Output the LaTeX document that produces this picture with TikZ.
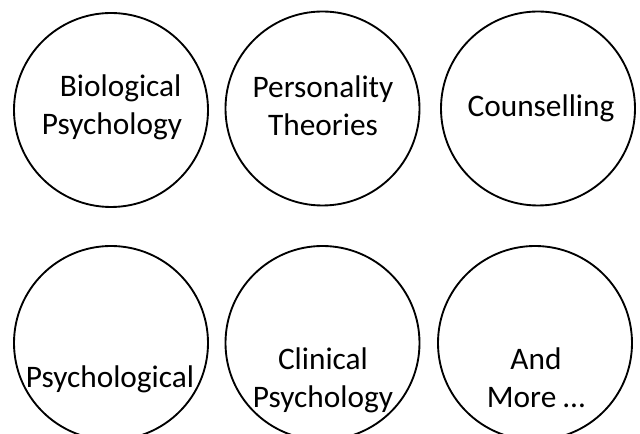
\documentclass[tikz,border=0pt]{standalone}
\usepackage{fontspec}
\setmainfont{Carlito}
\usetikzlibrary{shapes.geometric}
\begin{document}
\begin{tikzpicture}[x=0.75pt,y=-0.75pt,
  ring/.style={draw=black,line width=1.4pt,ellipse,inner sep=0pt,minimum width=145.5pt,minimum height=145.5pt},
  txt/.style={font=\fontsize{23.5}{29}\selectfont,align=center,inner sep=0pt,anchor=base}]
\useasboundingbox (0,0) rectangle (640,434);
\node[ring] (c1) at (111,110) {};
\node[ring] (c2) at (322.5,108.5) {};
\node[ring] (c3) at (538,108.5) {};
\node[ring] (c4) at (111,343) {};
\node[ring] (c5) at (322.5,343) {};
\node[ring] (c6) at (535,343) {};
\node[txt] (t1) at (112,135) {\hspace*{13pt}Biological\\Psychology};
\node[txt] (t2) at (323,136) {Personality\\Theories};
\node[txt] (t3) at (541,117) {Counselling};
\node[txt] (t4) at (110,388) {Psychological};
\node[txt] (t5) at (323,408) {Clinical\\Psychology};
\node[txt] (t6) at (536,408) {And\\More …};
\end{tikzpicture}
\end{document}
